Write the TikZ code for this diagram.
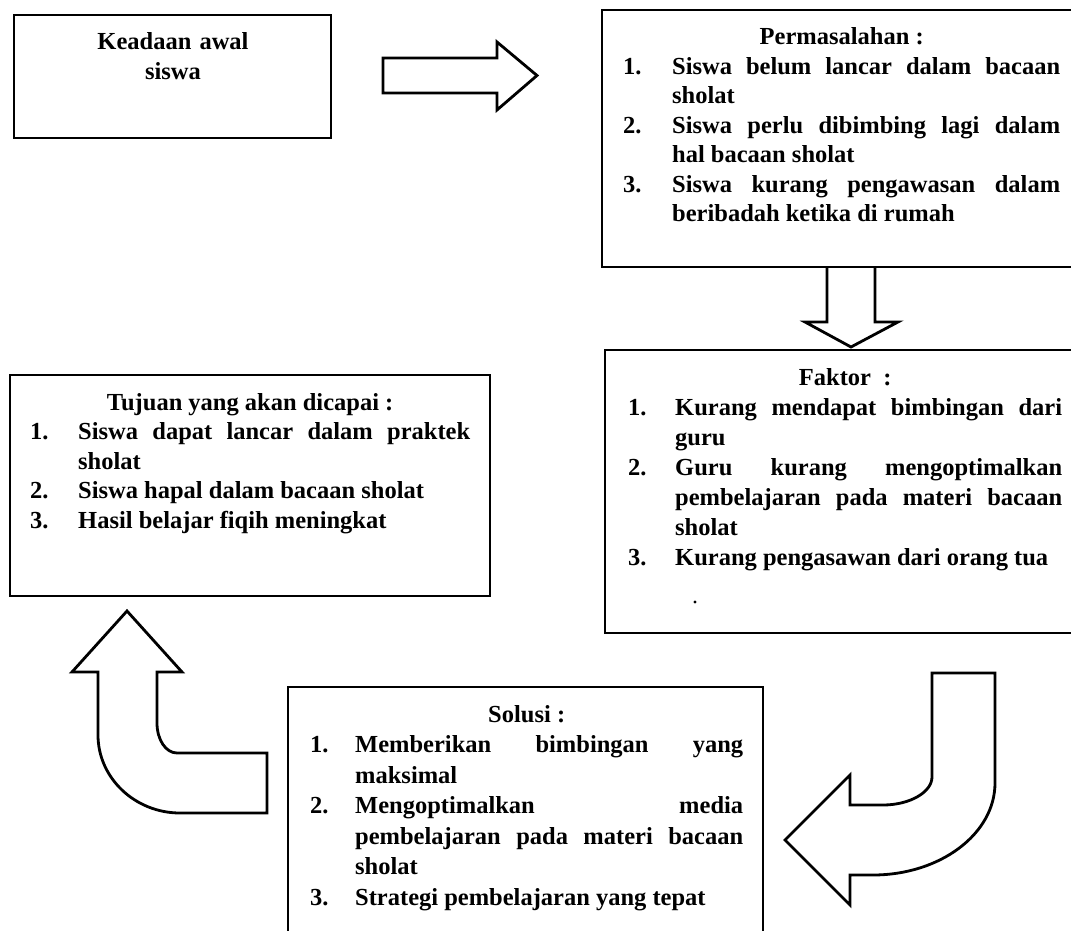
\documentclass[tikz,border=0pt]{standalone}
\usepackage{fontspec}
\setmainfont{Liberation Serif}
\hbadness=10000
\tolerance=9999
\newlength\itmind
\newcommand\itm[2]{\par\hangindent=\itmind\hangafter=1\noindent\makebox[\itmind][l]{#1}#2}
\begin{document}
\begin{tikzpicture}[x=1pt,y=-1pt,
  boxline/.style={line width=2.8pt, line join=miter},
  arr/.style={line width=2.8pt, line join=miter},
  txt/.style={anchor=base west, inner sep=0pt, align=justify,
    font=\fontsize{24.5}{29.5}\selectfont\bfseries},
]
\useasboundingbox (0,0) rectangle (1071,931);
\clip (0,0) rectangle (1071,931);
\fill[white] (0,0) rectangle (1071,931);

% boxes
\draw[boxline] (14,15) rectangle (331,138);
\draw[boxline] (602,10) rectangle (1076,267);
\draw[boxline] (605,350) rectangle (1076,633);
\draw[boxline] (10,375) rectangle (490,596);
\draw[boxline] (288,687) rectangle (763,936);

% texts
\node[anchor=base, inner sep=0pt, text width=300pt, align=center,
  font=\fontsize{24.5}{29.5}\selectfont\bfseries] (awal) at (173,50) {Keadaan awal\\siswa};

\node[txt, text width=437pt] (perm) at (623,45) {\setlength\itmind{49pt}%
\centerline{Permasalahan :}%
\itm{1.}{Siswa belum lancar dalam bacaan\linebreak sholat}%
\itm{2.}{Siswa perlu dibimbing lagi dalam\linebreak hal bacaan sholat}%
\itm{3.}{Siswa kurang pengawasan dalam\linebreak beribadah ketika di rumah}\par};

\node[txt, text width=434pt, font=\fontsize{24.5}{30}\selectfont\bfseries] (faktor) at (628,385) {\setlength\itmind{47pt}%
\centerline{Faktor\ \ :}%
\itm{1.}{Kurang mendapat bimbingan dari\linebreak guru}%
\itm{2.}{Guru kurang mengoptimalkan\linebreak pembelajaran pada materi bacaan\linebreak sholat}%
\itm{3.}{Kurang pengasawan dari orang tua}\par};

\node[txt, text width=440pt] (tujuan) at (30,410) {\setlength\itmind{48pt}%
\centerline{Tujuan yang akan dicapai :}%
\itm{1.}{Siswa dapat lancar dalam praktek\linebreak sholat}%
\itm{2.}{Siswa hapal dalam bacaan sholat}%
\itm{3.}{Hasil belajar fiqih meningkat}\par};

\node[txt, text width=433pt, font=\fontsize{24.5}{30.5}\selectfont\bfseries] (solusi) at (310,722) {\setlength\itmind{45pt}%
\centerline{Solusi :}%
\itm{1.}{Memberikan bimbingan yang\linebreak maksimal}%
\itm{2.}{Mengoptimalkan media\linebreak pembelajaran pada materi bacaan\linebreak sholat}%
\itm{3.}{Strategi pembelajaran yang tepat}\par};

\fill (695,602) circle (1.6pt);

% straight block arrows
\draw[arr] (383,58) -- (497,58) -- (497,42) -- (537,75.5) -- (497,110) -- (497,93) -- (383,93) -- cycle;
\draw[arr] (827,267) -- (827,322) -- (805,322) -- (851,347) -- (898,322) -- (875,322) -- (875,267);

% curved block arrow Faktor -> Solusi
\draw[arr] (932,673) -- (995,673) -- (995,783)
  .. controls (995,834) and (940,875) .. (873,875) -- (850,875) -- (850,905)
  -- (785,840) -- (850,775) -- (850,805) -- (883,805)
  .. controls (910,805) and (932,792) .. (932,777) -- cycle;

% curved block arrow Solusi -> Tujuan
\draw[arr] (267,753) -- (267,813) -- (180,813)
  .. controls (135,813) and (98,778) .. (98,735) -- (98,672) -- (72,672)
  -- (127,611) -- (182,672) -- (157,672) -- (157,723)
  .. controls (157,740) and (166,753) .. (177,753) -- cycle;
\end{tikzpicture}
\end{document}
